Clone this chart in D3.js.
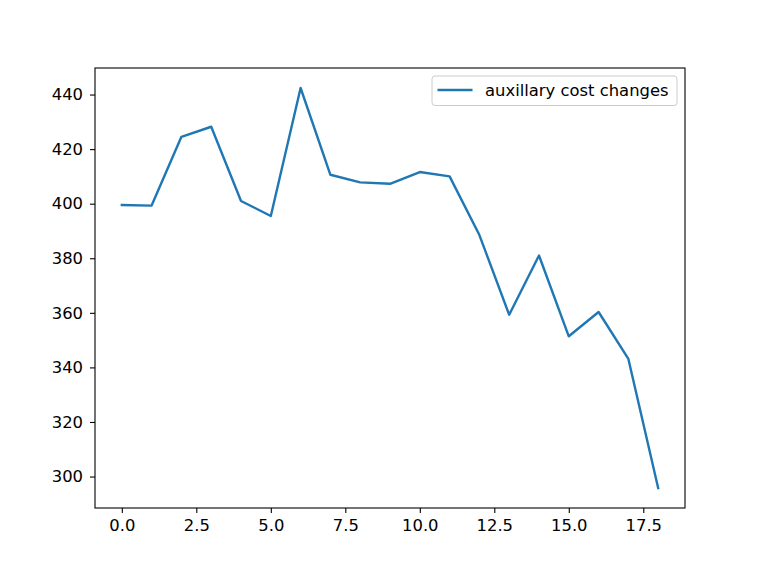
<!DOCTYPE html>
<html>
<head>
<meta charset="utf-8">
<script src="https://cdn.jsdelivr.net/npm/d3@7"></script>
<style>
  body { margin: 0; background: #fff; }
  svg { display: block; }
  text { font-family: "DejaVu Sans", sans-serif; fill: #000; }
</style>
</head>
<body>
<svg id="chart" width="761" height="571"></svg>
<script>
// auxillary cost changes per step
var steps = [0, 1, 2, 3, 4, 5, 6, 7, 8, 9, 10, 11, 12, 13, 14, 15, 16, 17, 18];
var costs = [399.5, 399.3, 424.5, 428.2, 401.0, 395.5, 442.4, 410.6, 407.8, 407.3,
             411.6, 410.0, 388.5, 359.3, 381.0, 351.4, 360.3, 343.1, 295.8];
var xTicks = [0, 2.5, 5, 7.5, 10, 12.5, 15, 17.5];
var yTicks = [300, 320, 340, 360, 380, 400, 420, 440];
var seriesName = "auxillary cost changes";

var margin = {top: 68, left: 95, right: 76, bottom: 63};
var fontSize = 16.4;
var lineColor = "#1f77b4";

var svg = d3.select("#chart");
var width = +svg.attr("width") - margin.left - margin.right;
var height = +svg.attr("height") - margin.top - margin.bottom;

// matplotlib style 5% padding
var xPad = (d3.max(steps) - d3.min(steps)) * 0.05;
var yPad = (d3.max(costs) - d3.min(costs)) * 0.05;

var x = d3.scaleLinear()
    .domain([d3.min(steps) - xPad, d3.max(steps) + xPad])
    .range([0, width]);
var y = d3.scaleLinear()
    .domain([d3.min(costs) - yPad, d3.max(costs) + yPad])
    .range([height, 0]);

var g = svg.append("g")
    .attr("transform", "translate(" + margin.left + "," + margin.top + ")");

var xAxis = g.append("g")
    .attr("transform", "translate(0," + height + ")")
    .call(d3.axisBottom(x).tickValues(xTicks).tickFormat(d3.format(".1f"))
        .tickSizeOuter(0).tickSize(5).tickPadding(6));

var yAxis = g.append("g")
    .call(d3.axisLeft(y).tickValues(yTicks).tickFormat(d3.format("d"))
        .tickSizeOuter(0).tickSize(5).tickPadding(7));

[xAxis, yAxis].forEach(function(ax) {
    ax.select(".domain").remove();
    ax.selectAll(".tick line").attr("stroke", "#000").attr("stroke-width", 1.1);
    ax.selectAll(".tick text")
        .style("font-size", fontSize + "px")
        .style("font-family", "DejaVu Sans, sans-serif")
        .attr("fill", "#000");
});

var line = d3.line()
    .x(function(d, i) { return x(steps[i]); })
    .y(function(d) { return y(d); });

g.append("path")
    .datum(costs)
    .attr("fill", "none")
    .attr("stroke", lineColor)
    .attr("stroke-width", 2.4)
    .attr("stroke-linejoin", "round")
    .attr("stroke-linecap", "square")
    .attr("d", line);

// axes frame
g.append("rect")
    .attr("width", width)
    .attr("height", height)
    .attr("fill", "none")
    .attr("stroke", "#000")
    .attr("stroke-width", 1.1);

// legend
var legend = g.append("g")
    .attr("transform", "translate(" + (width - 253) + ",8)");

legend.append("rect")
    .attr("width", 245)
    .attr("height", 29.5)
    .attr("rx", 3)
    .attr("fill", "#fff")
    .attr("fill-opacity", 0.8)
    .attr("stroke", "#cccccc")
    .attr("stroke-width", 1);

legend.append("line")
    .attr("x1", 5.5).attr("x2", 40.5)
    .attr("y1", 14).attr("y2", 14)
    .attr("stroke", lineColor)
    .attr("stroke-width", 2.4);

legend.append("text")
    .attr("x", 53)
    .attr("y", 14)
    .attr("dy", "0.35em")
    .style("font-size", fontSize + "px")
    .text(seriesName);
</script>
</body>
</html>
